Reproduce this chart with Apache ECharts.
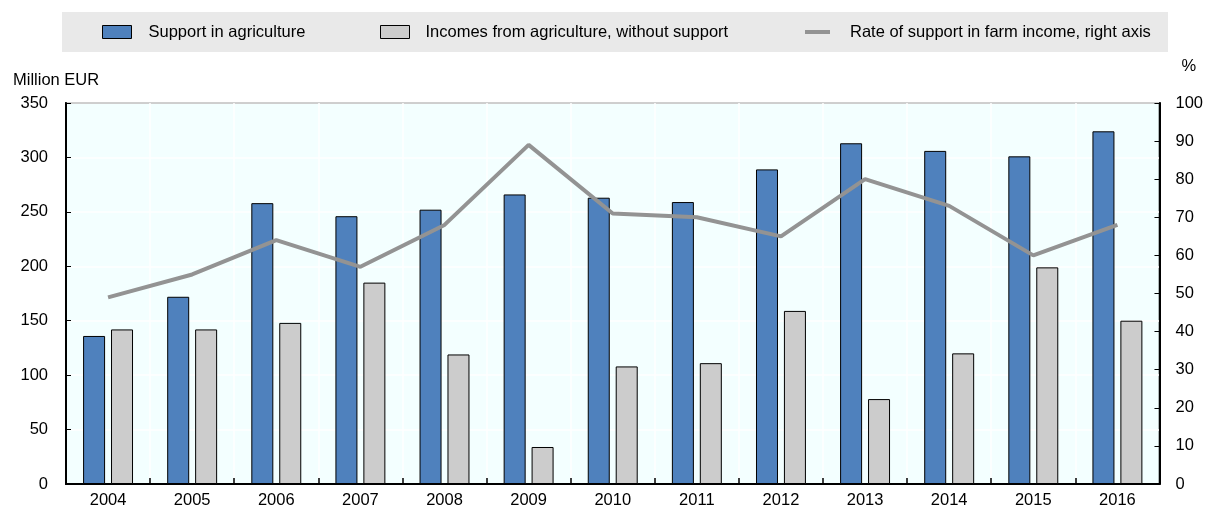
<!DOCTYPE html>
<html>
<head>
<meta charset="utf-8">
<script src="https://cdn.jsdelivr.net/npm/echarts@6/dist/echarts.min.js"></script>
<style>
html,body{margin:0;padding:0;background:#fff;}
#chart{width:1206px;height:510px;}
</style>
</head>
<body>
<div id="chart"></div>
<script>
const years = ['2004','2005','2006','2007','2008','2009','2010','2011','2012','2013','2014','2015','2016'];
const supportValues = [136,172,258,246,252,266,263,259,289,313,306,301,324];
const incomeValues = [142,142,148,185,119,34,108,111,159,78,120,199,150];
const rateValues = [49,55,64,57,68,89,71,70,65,80,73,60,68];
const leftTicks = [0,50,100,150,200,250,300,350];
const rightTicks = [0,10,20,30,40,50,60,70,80,90,100];

const FONT = '"Liberation Sans",Arial,sans-serif';
const chart = echarts.init(document.getElementById('chart'), null, {renderer:'canvas'});

const legendText = (p) => ({fontFamily: FONT, fontSize: 16.5, color: '#000', padding: [0,0,0,p]});
chart.setOption({
  animation: false,
  textStyle: {fontFamily: FONT},
  graphic: [{
    type: 'rect', left: 62, top: 12, z: -1,
    shape: {width: 1106, height: 40},
    style: {fill: '#E9E9E9'}
  }],
  legend: [
    {data: [{name: 'Support in agriculture', icon: 'rect'}], left: 102, top: 23.5, itemWidth: 29, itemHeight: 13, padding: 0,
     textStyle: legendText(12), itemStyle: {borderColor: '#000', borderWidth: 1}},
    {data: [{name: 'Incomes from agriculture, without support', icon: 'rect'}], left: 380, top: 23.5, itemWidth: 29, itemHeight: 13, padding: 0,
     textStyle: legendText(11), itemStyle: {borderColor: '#000', borderWidth: 1}},
    {data: [{name: 'Rate of support in farm income, right axis', icon: 'rect'}], left: 805, top: 23.5, itemWidth: 25, itemHeight: 4, padding: 0,
     textStyle: legendText(15)}
  ],
  grid: {
    left: 66, right: 46, top: 103, bottom: 26,
    show: true, backgroundColor: '#F3FFFF', borderColor: '#000', borderWidth: 1.5
  },
  xAxis: {
    type: 'category', data: years,
    axisLine: {show: true, lineStyle: {color: '#000', width: 2}},
    axisTick: {show: true, inside: true, length: 6, lineStyle: {color: '#000', width: 1.5}},
    axisLabel: {color: '#000', fontSize: 16.5, fontFamily: FONT, margin: 8},
    splitLine: {show: true, lineStyle: {color: '#FFFFFF', width: 1.5}}
  },
  yAxis: [
    {
      type: 'value', min: 0, max: 350, interval: 50,
      name: 'Million EUR', nameLocation: 'end', nameGap: 14,
      nameTextStyle: {color: '#000', fontSize: 16.5, fontFamily: FONT, align: 'left', padding: [0,0,0,-53]},
      axisLine: {show: true, lineStyle: {color: '#000', width: 2}},
      axisTick: {show: true, inside: true, length: 5, lineStyle: {color: '#000'}},
      axisLabel: {color: '#000', fontSize: 16.5, fontFamily: FONT, margin: 18,
        formatter: v => leftTicks.includes(v) ? String(v) : ''},
      splitLine: {show: true, lineStyle: {color: '#FFFFFF', width: 1.5}}
    },
    {
      type: 'value', min: 0, max: 100, interval: 10, position: 'right',
      name: '%', nameLocation: 'end', nameGap: 28,
      nameTextStyle: {color: '#000', fontSize: 16.5, fontFamily: FONT, align: 'left', padding: [0,0,0,22]},
      axisLine: {show: true, lineStyle: {color: '#000', width: 2}},
      axisTick: {show: true, inside: true, length: 5, lineStyle: {color: '#000'}},
      axisLabel: {color: '#000', fontSize: 16.5, fontFamily: FONT, margin: 16,
        formatter: v => rightTicks.includes(v) ? String(v) : ''},
      splitLine: {show: false}
    }
  ],
  series: [
    {name: 'Support in agriculture', type: 'bar', data: supportValues,
     barWidth: 22, barGap: '27%',
     itemStyle: {color: '#4F81BD', borderColor: '#000', borderWidth: 1}},
    {name: 'Incomes from agriculture, without support', type: 'bar', data: incomeValues,
     barWidth: 22, barGap: '27%',
     itemStyle: {color: '#CCCCCC', borderColor: '#000', borderWidth: 1}},
    {name: 'Rate of support in farm income, right axis', type: 'line', yAxisIndex: 1, data: rateValues,
     symbol: 'none', lineStyle: {color: '#939393', width: 4}, itemStyle: {color: '#939393'}, z: 5}
  ]
});
</script>
</body>
</html>
